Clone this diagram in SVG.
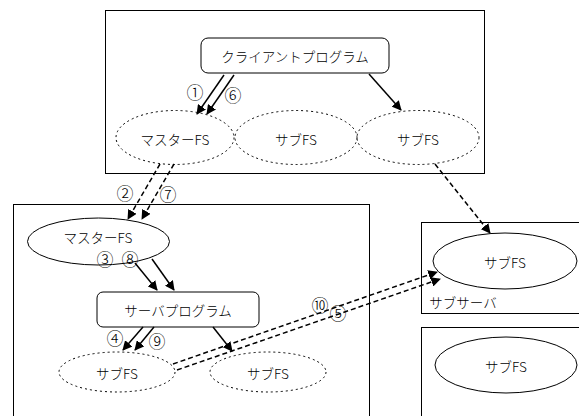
<svg xmlns="http://www.w3.org/2000/svg" width="579" height="416" viewBox="0 0 579 416">
<style>
.box{fill:#fff;stroke:#000;stroke-width:1}
.prog{fill:#fff;stroke:#000;stroke-width:1}
.dot{fill:none;stroke:#000;stroke-width:1;stroke-dasharray:2 3}
.sol{fill:#fff;stroke:#000;stroke-width:1}
.t{font-family:"Noto Sans CJK JP","Noto Sans",sans-serif;font-size:13.5px;font-weight:300;text-anchor:middle;dominant-baseline:central;fill:#000}
.n{font-family:"Noto Sans CJK JP","DejaVu Sans",sans-serif;font-size:17px;font-weight:300;text-anchor:middle;dominant-baseline:central;fill:#000}
.a{stroke:#000;stroke-width:1.5;fill:none;marker-end:url(#ah)}
.d{stroke:#000;stroke-width:1.5;fill:none;stroke-dasharray:5 3;marker-end:url(#ah)}
</style>
<defs>
<marker id="ah" viewBox="0 0 10 10" refX="9" refY="5" markerWidth="6.5" markerHeight="6.5" orient="auto" markerUnits="strokeWidth">
<path d="M0,0 L10,5 L0,10 z" fill="#000"/>
</marker>
</defs>
<rect width="579" height="416" fill="#fff"/>
<g id="client-machine">
<rect class="box" x="105.5" y="10.5" width="379" height="163"/>
</g>
<g id="client-program">
<rect class="prog" x="201" y="38" width="188" height="35" rx="7"/>
<text class="t" x="295" y="56">クライアントプログラム</text>
</g>
<g id="master-fs-top">
<ellipse class="dot" cx="175" cy="137.5" rx="59" ry="27"/>
<text class="t" x="175" y="139">マスターFS</text>
</g>
<g id="sub-fs-top-1">
<ellipse class="dot" cx="296" cy="137.5" rx="61" ry="27"/>
<text class="t" x="296" y="139">サブFS</text>
</g>
<g id="sub-fs-top-2">
<ellipse class="dot" cx="418" cy="137.5" rx="61" ry="27"/>
<text class="t" x="418" y="139">サブFS</text>
</g>
<g id="main-server">
<rect class="box" x="13.5" y="204.5" width="356" height="230"/>
</g>
<g id="master-fs">
<ellipse class="sol" cx="98.5" cy="241.5" rx="71" ry="23.5"/>
<text class="t" x="98" y="237">マスターFS</text>
</g>
<g id="server-program">
<rect class="prog" x="97" y="292" width="162" height="35" rx="6"/>
<text class="t" x="178" y="310">サーバプログラム</text>
</g>
<g id="sub-fs-1">
<ellipse class="dot" cx="117" cy="372" rx="58" ry="20"/>
<text class="t" x="117" y="373">サブFS</text>
</g>
<g id="sub-fs-2">
<ellipse class="dot" cx="268" cy="372" rx="58" ry="20"/>
<text class="t" x="268" y="373">サブFS</text>
</g>
<g id="sub-server">
<rect class="box" x="421.5" y="222.5" width="170" height="91"/>
<ellipse class="sol" cx="505" cy="261" rx="72" ry="28"/>
<text class="t" x="505" y="262">サブFS</text>
<text class="t" x="463" y="302">サブサーバ</text>
</g>
<g id="sub-server-2">
<rect class="box" x="421.5" y="327.5" width="170" height="100"/>
<ellipse class="sol" cx="506" cy="365" rx="71" ry="28"/>
<text class="t" x="506" y="366">サブFS</text>
</g>
<g id="connectors">
<line class="a" x1="224" y1="75" x2="197" y2="114"/>
<line class="a" x1="234" y1="75" x2="207" y2="114"/>
<line class="a" x1="369" y1="74" x2="401" y2="110"/>
<line class="d" x1="160" y1="164" x2="128" y2="219"/>
<line class="d" x1="174" y1="164" x2="142" y2="219"/>
<line class="a" x1="135" y1="263" x2="157" y2="290"/>
<line class="a" x1="152" y1="259" x2="174" y2="290"/>
<line class="a" x1="143" y1="327" x2="123" y2="350"/>
<line class="a" x1="154" y1="327" x2="135" y2="350"/>
<line class="a" x1="213" y1="327" x2="232" y2="351"/>
<line class="d" x1="173" y1="364" x2="437" y2="272"/>
<line class="d" x1="177" y1="370" x2="440" y2="279"/>
<line class="d" x1="435" y1="164" x2="490" y2="233"/>
</g>
<g id="labels">
<text class="n" x="195" y="91">①</text>
<text class="n" x="233" y="94">⑥</text>
<text class="n" x="125" y="192">②</text>
<text class="n" x="168" y="193">⑦</text>
<text class="n" x="105" y="258.5">③</text>
<text class="n" x="130" y="258.5">⑧</text>
<text class="n" x="115" y="337">④</text>
<text class="n" x="157" y="340">⑨</text>
<text class="n" x="320" y="304">⑩</text>
<text class="n" x="338" y="312">⑤</text>
</g>
</svg>
